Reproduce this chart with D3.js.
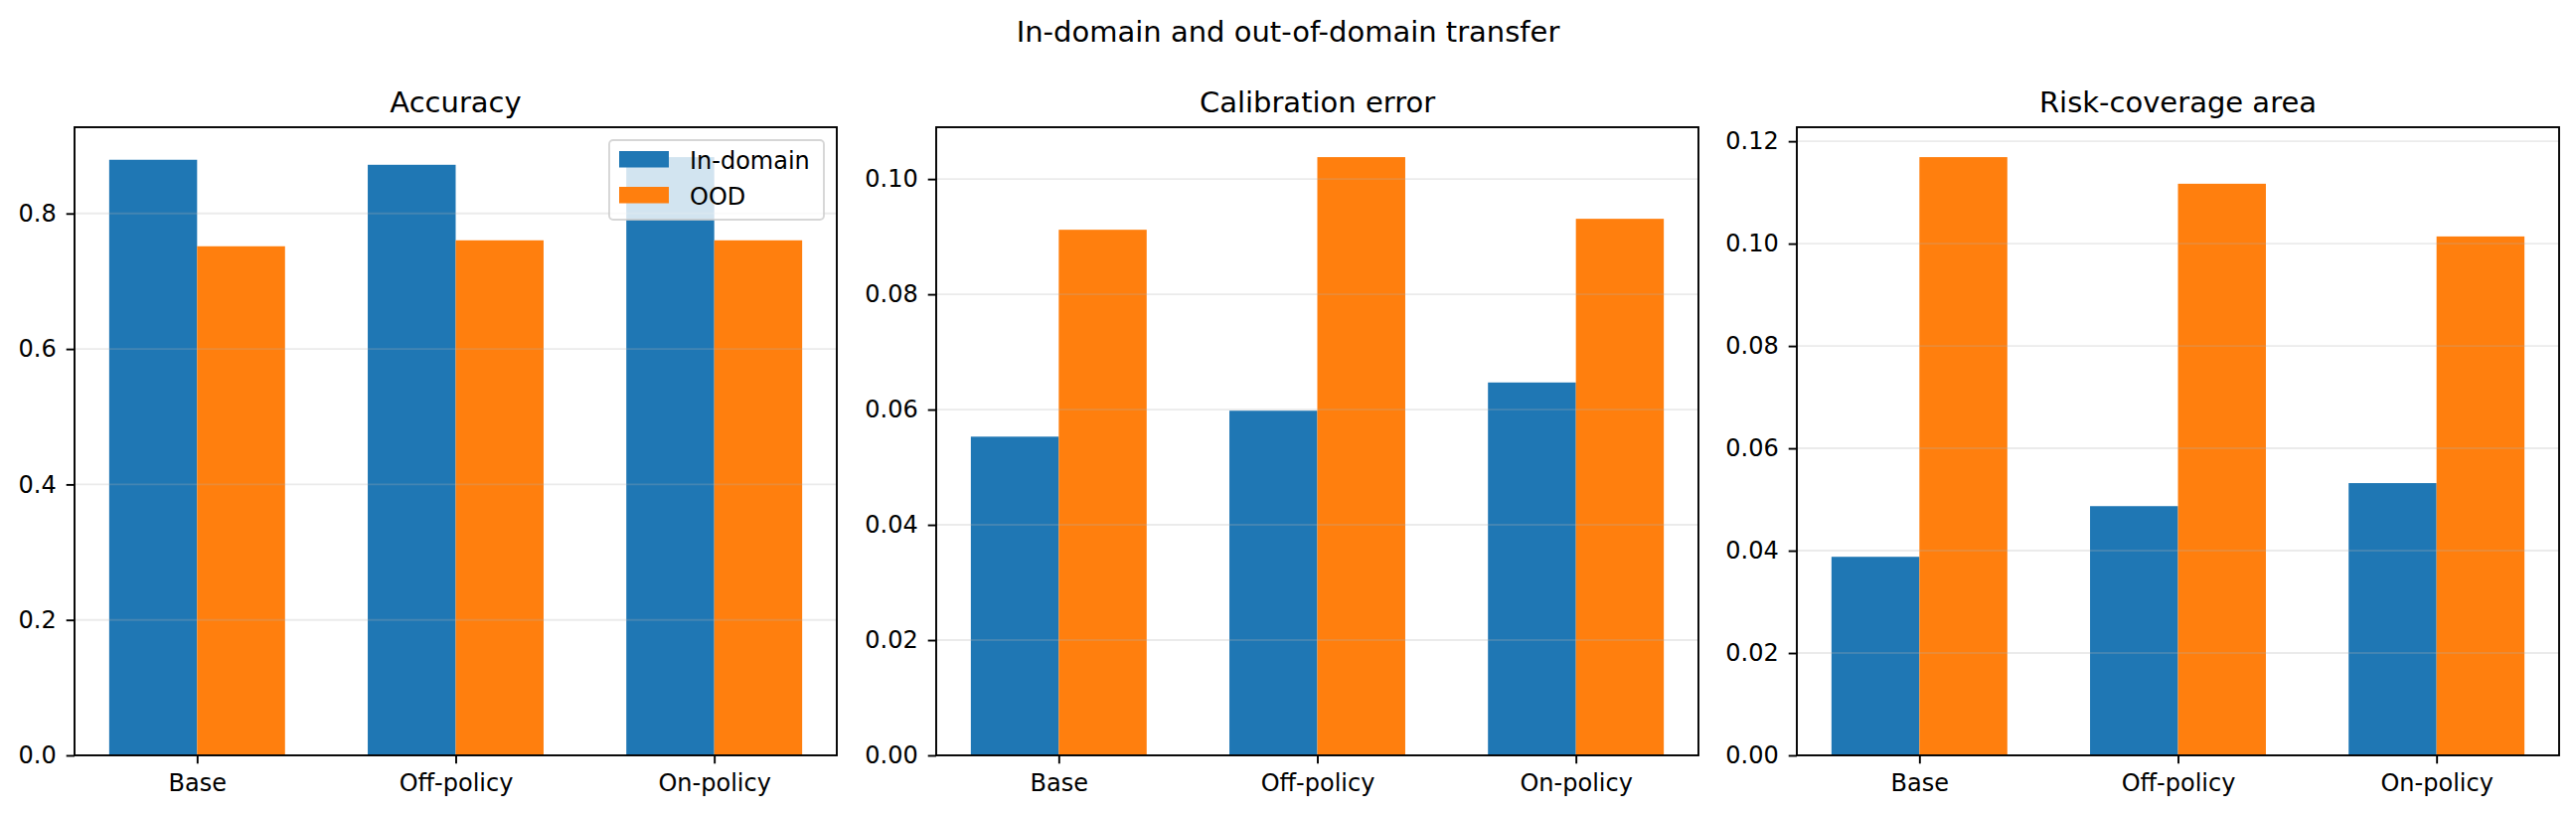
<!DOCTYPE html>
<html>
<head>
<meta charset="utf-8">
<script src="https://cdn.jsdelivr.net/npm/d3@7"></script>
<style>
  html, body { margin: 0; padding: 0; background: #fff; }
  svg { display: block; font-family: "DejaVu Sans", sans-serif; }
</style>
</head>
<body>
<div id="chart"></div>
<script>
// ---- data ----
const categories = ["Base", "Off-policy", "On-policy"];
const seriesNames = ["In-domain", "OOD"];
const seriesColors = ["#1f77b4", "#ff7f0e"];

const accuracyIn  = [0.8793, 0.8719, 0.8832];
const accuracyOOD = [0.7516, 0.7604, 0.7604];
const calibIn     = [0.0553, 0.0598, 0.0647];
const calibOOD    = [0.0912, 0.1038, 0.0931];
const riskIn      = [0.0388, 0.0487, 0.0532];
const riskOOD     = [0.1169, 0.1117, 0.1014];

const panelTitles = ["Accuracy", "Calibration error", "Risk-coverage area"];
const accuracyTicks = [0, 0.2, 0.4, 0.6, 0.8];
const calibTicks    = [0, 0.02, 0.04, 0.06, 0.08, 0.10];
const riskTicks     = [0, 0.02, 0.04, 0.06, 0.08, 0.10, 0.12];
const suptitle = "In-domain and out-of-domain transfer";

const panels = [
  { title: panelTitles[0], values: [accuracyIn, accuracyOOD], ticks: accuracyTicks, fmt: d3.format(".1f"), legend: true },
  { title: panelTitles[1], values: [calibIn, calibOOD],       ticks: calibTicks,    fmt: d3.format(".2f") },
  { title: panelTitles[2], values: [riskIn, riskOOD],         ticks: riskTicks,     fmt: d3.format(".2f") }
];

// ---- layout ----
const W = 2592, H = 819;
const panelLeft = [75, 942, 1808];
const panelW = 767;
const plotTop = 128, plotBottom = 760;
const barW = 0.34;
const fontTick = 24, fontTitle = 29;
const tickLen = 8.3;

const svg = d3.select("#chart").append("svg")
  .attr("width", W).attr("height", H);

svg.append("text")
  .attr("x", W / 2).attr("y", 42)
  .attr("text-anchor", "middle")
  .style("font-size", fontTitle + "px")
  .text(suptitle);

panels.forEach((p, pi) => {
  const g = svg.append("g").attr("transform", `translate(${panelLeft[pi]},0)`);

  // matplotlib-like margins: 5% on x, 5% above the highest bar
  const span = 2 + 2 * barW;
  const x = d3.scaleLinear()
    .domain([-barW - 0.05 * span, 2 + barW + 0.05 * span])
    .range([0, panelW]);
  const ymax = d3.max(p.values.flat()) * 1.05;
  const y = d3.scaleLinear().domain([0, ymax]).range([plotBottom, plotTop]);

  // bars
  p.values.forEach((vals, si) => {
    g.append("g").selectAll("rect")
      .data(vals)
      .join("rect")
      .attr("x", (d, i) => x(i + (si === 0 ? -barW : 0)))
      .attr("width", x(barW) - x(0))
      .attr("y", d => y(d))
      .attr("height", d => y(0) - y(d))
      .attr("fill", seriesColors[si]);
  });

  // grid on top of bars (matplotlib default)
  g.append("g").selectAll("line")
    .data(p.ticks)
    .join("line")
    .attr("x1", 0).attr("x2", panelW)
    .attr("y1", d => y(d)).attr("y2", d => y(d))
    .attr("stroke", "#b0b0b0")
    .attr("stroke-opacity", 0.25)
    .attr("stroke-width", 1.9);

  // y axis
  const yAxis = g.append("g")
    .call(d3.axisLeft(y).tickValues(p.ticks).tickFormat(p.fmt).tickSize(tickLen).tickPadding(10));
  yAxis.select(".domain").remove();
  yAxis.selectAll("line").attr("stroke", "#000").attr("stroke-width", 1.9);
  yAxis.selectAll("text")
    .attr("fill", "#000")
    .style("font-size", fontTick + "px")
    .style("font-family", "DejaVu Sans");

  // x axis
  const xAxis = g.append("g")
    .attr("transform", `translate(0,${plotBottom})`)
    .call(d3.axisBottom(x).tickValues(d3.range(categories.length))
      .tickFormat(i => categories[i]).tickSize(tickLen).tickPadding(8));
  xAxis.select(".domain").remove();
  xAxis.selectAll("line").attr("stroke", "#000").attr("stroke-width", 1.9);
  xAxis.selectAll("text")
    .attr("fill", "#000")
    .attr("dy", "0.8em")
    .style("font-size", fontTick + "px")
    .style("font-family", "DejaVu Sans");

  // frame
  g.append("rect")
    .attr("x", 0).attr("y", plotTop)
    .attr("width", panelW).attr("height", plotBottom - plotTop)
    .attr("fill", "none")
    .attr("stroke", "#000")
    .attr("stroke-width", 1.9);

  // title
  g.append("text")
    .attr("x", panelW / 2).attr("y", plotTop - 15)
    .attr("text-anchor", "middle")
    .style("font-size", fontTitle + "px")
    .text(p.title);

  // legend (upper right)
  if (p.legend) {
    const lw = 216, lh = 80;
    const lg = g.append("g")
      .attr("transform", `translate(${panelW - 13 - lw},${plotTop + 13})`);
    lg.append("rect")
      .attr("width", lw).attr("height", lh)
      .attr("rx", 4).attr("ry", 4)
      .attr("fill", "#fff").attr("fill-opacity", 0.8)
      .attr("stroke", "#cccccc").attr("stroke-opacity", 0.8)
      .attr("stroke-width", 1.9);
    seriesNames.forEach((name, si) => {
      const row = lg.append("g").attr("transform", `translate(10,${11 + si * 36})`);
      row.append("rect")
        .attr("width", 50).attr("height", 16.5)
        .attr("fill", seriesColors[si]);
      row.append("text")
        .attr("x", 71).attr("y", 18)
        .style("font-size", fontTick + "px")
        .text(name);
    });
  }
});
</script>
</body>
</html>
